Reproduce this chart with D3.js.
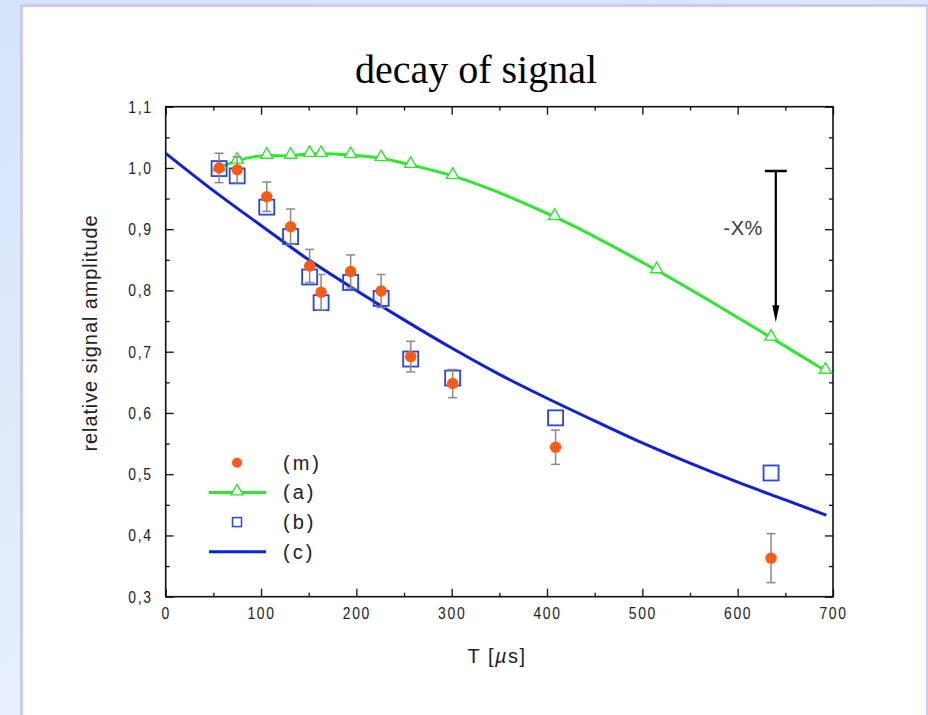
<!DOCTYPE html>
<html>
<head>
<meta charset="utf-8">
<script src="https://cdn.jsdelivr.net/npm/d3@7"></script>
<style>
  html, body { margin: 0; padding: 0; }
  body { width: 928px; height: 715px; overflow: hidden; }
  svg { display: block; }
</style>
</head>
<body>
<svg id="chart" width="928" height="715"></svg>
<script>
// Measurement times (µs) shared by series (m) and (b)
const tMeas = [56, 75, 106, 131, 151, 163, 194, 226, 257, 301, 409, 635];
// (m) measured relative amplitude and its error
const mValues = [1.000, 0.997, 0.953, 0.904, 0.840, 0.797, 0.831, 0.799, 0.692, 0.648, 0.544, 0.363];
const mErrors = [0.024, 0.021, 0.024, 0.029, 0.027, 0.029, 0.027, 0.027, 0.025, 0.023, 0.028, 0.040];
// (b) model points
const bValues = [0.999, 0.987, 0.936, 0.888, 0.822, 0.780, 0.813, 0.787, 0.688, 0.657, 0.592, 0.502];
// (a) model curve with markers
const tA = [56, 75, 106, 131, 151, 163, 194, 226, 257, 301, 408, 515, 635, 692];
const aValues = [1.000, 1.012, 1.020, 1.020, 1.023, 1.023, 1.021, 1.016, 1.005, 0.987, 0.920, 0.833, 0.723, 0.669];
// (c) continuous model curve
const tC = [0, 50, 100, 150, 200, 250, 300, 350, 400, 450, 500, 550, 600, 650, 693];
const cValues = [1.024, 0.963, 0.906, 0.850, 0.800, 0.752, 0.706, 0.663, 0.624, 0.587, 0.551, 0.518, 0.487, 0.458, 0.433];
// Axis ticks
const xMajor = [0, 100, 200, 300, 400, 500, 600, 700];
const xMinor = [50, 150, 250, 350, 450, 550, 650];
const yMajor = [0.3, 0.4, 0.5, 0.6, 0.7, 0.8, 0.9, 1.0, 1.1];
const yMinor = [0.35, 0.45, 0.55, 0.65, 0.75, 0.85, 0.95, 1.05];
const legendLabels = ["(m)", "(a)", "(b)", "(c)"];

const svg = d3.select("#chart");

// page background and white panel
const defs = svg.append("defs");
const bg = defs.append("linearGradient").attr("id", "bg")
  .attr("x1", "0").attr("y1", "0").attr("x2", "0.3").attr("y2", "1");
bg.append("stop").attr("offset", "0").attr("stop-color", "#d3e4fa");
bg.append("stop").attr("offset", "1").attr("stop-color", "#e9f1fc");
svg.append("rect").attr("width", 928).attr("height", 715).attr("fill", "url(#bg)");
svg.append("rect").attr("x", 21.5).attr("y", 5.5).attr("width", 906).attr("height", 720)
  .attr("fill", "#ffffff").attr("stroke", "#cbcaf6").attr("stroke-width", 3);

const x = d3.scaleLinear().domain([0, 700]).range([165.7, 833]);
const y = d3.scaleLinear().domain([0.3, 1.1]).range([596.7, 106.7]);

const sans = "'Liberation Sans', Arial, sans-serif";
const narrow = "scale(0.82,1)";

function styleAxis(g) {
  g.select(".domain").remove();
  g.selectAll(".tick line").attr("stroke", "#111").attr("stroke-width", 1.3);
  g.selectAll(".tick text").attr("fill", "#222").style("font-family", sans)
    .style("font-size", "17px").style("letter-spacing", "2px").attr("transform", narrow);
}

// bottom axis with labels
svg.append("g").attr("transform", `translate(0,${y(0.3)})`)
  .call(d3.axisBottom(x).tickValues(xMajor).tickSize(-8).tickPadding(10).tickFormat(d3.format("d")))
  .call(styleAxis);
svg.append("g").attr("transform", `translate(0,${y(0.3)})`)
  .call(d3.axisBottom(x).tickValues(xMinor).tickSize(-4).tickFormat(""))
  .call(styleAxis);
// top axis
svg.append("g").attr("transform", `translate(0,${y(1.1)})`)
  .call(d3.axisTop(x).tickValues(xMajor).tickSize(-8).tickFormat(""))
  .call(styleAxis);
svg.append("g").attr("transform", `translate(0,${y(1.1)})`)
  .call(d3.axisTop(x).tickValues(xMinor).tickSize(-4).tickFormat(""))
  .call(styleAxis);
// left axis with decimal-comma labels
const commaFmt = d => d3.format(".1f")(d).replace(".", ",");
svg.append("g").attr("transform", `translate(${x(0)},0)`)
  .call(d3.axisLeft(y).tickValues(yMajor).tickSize(-8).tickPadding(16).tickFormat(commaFmt))
  .call(styleAxis);
svg.append("g").attr("transform", `translate(${x(0)},0)`)
  .call(d3.axisLeft(y).tickValues(yMinor).tickSize(-4).tickFormat(""))
  .call(styleAxis);
// right axis
svg.append("g").attr("transform", `translate(${x(700)},0)`)
  .call(d3.axisRight(y).tickValues(yMajor).tickSize(-8).tickFormat(""))
  .call(styleAxis);
svg.append("g").attr("transform", `translate(${x(700)},0)`)
  .call(d3.axisRight(y).tickValues(yMinor).tickSize(-4).tickFormat(""))
  .call(styleAxis);

// plot frame
svg.append("rect").attr("x", x(0)).attr("y", y(1.1))
  .attr("width", x(700) - x(0)).attr("height", y(0.3) - y(1.1))
  .attr("fill", "none").attr("stroke", "#111").attr("stroke-width", 1.6);

// titles
svg.append("text").attr("x", 476).attr("y", 83).attr("text-anchor", "middle")
  .style("font-family", "'Liberation Serif', 'Times New Roman', serif").style("font-size", "40px")
  .attr("fill", "#000").text("decay of signal");

const xl = svg.append("text").attr("x", 497).attr("y", 663).attr("text-anchor", "middle")
  .style("font-family", sans).style("font-size", "20px").style("letter-spacing", "1.5px").attr("fill", "#222");
xl.append("tspan").text("T [");
xl.append("tspan").style("font-style", "italic").text("µ");
xl.append("tspan").text("s]");

svg.append("text").attr("transform", "translate(97,333) rotate(-90)")
  .attr("text-anchor", "middle")
  .style("font-family", sans).style("font-size", "20px").style("letter-spacing", "0.9px")
  .attr("fill", "#222").text("relative signal amplitude");

const blue = "#0d1fe0", green = "#2de82d", orange = "#ff5a14", sqBlue = "#2447e8";

// (c) curve
svg.append("path").datum(tC.map((t, i) => [t, cValues[i]]))
  .attr("d", d3.line().x(d => x(d[0])).y(d => y(d[1])).curve(d3.curveMonotoneX))
  .attr("fill", "none").attr("stroke", blue).attr("stroke-width", 3);

// (a) curve with triangle markers
const aPts = tA.map((t, i) => [t, aValues[i]]);
svg.append("path").datum(aPts)
  .attr("d", d3.line().x(d => x(d[0])).y(d => y(d[1])).curve(d3.curveMonotoneX))
  .attr("fill", "none").attr("stroke", green).attr("stroke-width", 3);
const tri = d3.symbol().type(d3.symbolTriangle).size(64);
svg.append("g").selectAll("path").data(aPts).join("path")
  .attr("transform", d => `translate(${x(d[0])},${y(d[1]) - 1})`)
  .attr("d", tri).attr("fill", "#fff").attr("stroke", green).attr("stroke-width", 1.4);

// (b) hollow squares
svg.append("g").selectAll("rect").data(tMeas.map((t, i) => [t, bValues[i]])).join("rect")
  .attr("x", d => x(d[0]) - 7.5).attr("y", d => y(d[1]) - 7.5)
  .attr("width", 15).attr("height", 15)
  .attr("fill", "none").attr("stroke", sqBlue).attr("stroke-width", 1.8);

// (m) error bars and points
const mPts = tMeas.map((t, i) => ({ t, v: mValues[i], e: mErrors[i] }));
const eb = svg.append("g").attr("stroke", "#8a8a8a").attr("stroke-width", 1.5);
eb.selectAll("line.v").data(mPts).join("line").attr("class", "v")
  .attr("x1", d => x(d.t)).attr("x2", d => x(d.t))
  .attr("y1", d => y(d.v + d.e)).attr("y2", d => y(d.v - d.e));
eb.selectAll("line.t").data(mPts).join("line").attr("class", "t")
  .attr("x1", d => x(d.t) - 4.5).attr("x2", d => x(d.t) + 4.5)
  .attr("y1", d => y(d.v + d.e)).attr("y2", d => y(d.v + d.e));
eb.selectAll("line.b").data(mPts).join("line").attr("class", "b")
  .attr("x1", d => x(d.t) - 4.5).attr("x2", d => x(d.t) + 4.5)
  .attr("y1", d => y(d.v - d.e)).attr("y2", d => y(d.v - d.e));
svg.append("g").selectAll("circle").data(mPts).join("circle")
  .attr("cx", d => x(d.t)).attr("cy", d => y(d.v)).attr("r", 5.7).attr("fill", orange);

// decrease annotation arrow
const ax = x(640);
const ann = svg.append("g");
ann.append("line").attr("x1", ax - 11).attr("x2", ax + 11).attr("y1", y(0.995)).attr("y2", y(0.995))
  .attr("stroke", "#000").attr("stroke-width", 2.5);
ann.append("line").attr("x1", ax).attr("x2", ax).attr("y1", y(0.995)).attr("y2", y(0.77))
  .attr("stroke", "#000").attr("stroke-width", 2.2);
ann.append("path")
  .attr("d", `M${ax - 3.5},${y(0.776)} L${ax + 3.5},${y(0.776)} L${ax},${y(0.748)} Z`)
  .attr("fill", "#000");
ann.append("text").attr("x", ax - 13).attr("y", y(0.902)).attr("dy", "0.35em").attr("text-anchor", "end")
  .style("font-family", sans).style("font-size", "20px").style("letter-spacing", "0.5px")
  .attr("fill", "#3a3a3a").text("-X%");

// legend
const lx = 237, ly0 = 462.7, lstep = 29.7, ltx = 283;
const leg = svg.append("g");
legendLabels.forEach((lab, i) => {
  const ly = ly0 + i * lstep;
  if (i === 0) leg.append("circle").attr("cx", lx).attr("cy", ly).attr("r", 5).attr("fill", orange);
  if (i === 1) {
    leg.append("line").attr("x1", lx - 28).attr("x2", lx + 29).attr("y1", ly).attr("y2", ly)
      .attr("stroke", green).attr("stroke-width", 3);
    leg.append("path").attr("transform", `translate(${lx},${ly - 1})`).attr("d", tri)
      .attr("fill", "#fff").attr("stroke", green).attr("stroke-width", 1.4);
  }
  if (i === 2) leg.append("rect").attr("x", lx - 4.5).attr("y", ly - 4.5).attr("width", 9).attr("height", 9)
    .attr("fill", "none").attr("stroke", sqBlue).attr("stroke-width", 1.5);
  if (i === 3) leg.append("line").attr("x1", lx - 28).attr("x2", lx + 29).attr("y1", ly).attr("y2", ly)
    .attr("stroke", blue).attr("stroke-width", 3);
  leg.append("text").attr("x", ltx).attr("y", ly).attr("dy", "0.35em")
    .style("font-family", sans).style("font-size", "20px")
    .style("letter-spacing", "3px").attr("fill", "#222").text(lab);
});
</script>
</body>
</html>
